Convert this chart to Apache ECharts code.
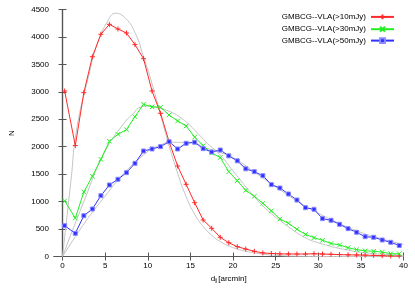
<!DOCTYPE html>
<html><head><meta charset="utf-8">
<script src="https://cdn.jsdelivr.net/npm/echarts@6/dist/echarts.min.js"></script>
<style>html,body{margin:0;padding:0;background:#fff}#c{width:415px;height:291px}</style>
</head><body><div id="c"></div>
<script>
const dVals = [0.25, 1.5, 2.5, 3.5, 4.5, 5.5, 6.5, 7.5, 8.5, 9.5, 10.5, 11.5, 12.5, 13.5, 14.5, 15.5, 16.5, 17.5, 18.5, 19.5, 20.5, 21.5, 22.5, 23.5, 24.5, 25.5, 26.5, 27.5, 28.5, 29.5, 30.5, 31.5, 32.5, 33.5, 34.5, 35.5, 36.5, 37.5, 38.5, 39.5];
const red10 = [3015, 2020, 2985, 3640, 4048, 4230, 4145, 4072, 3860, 3604, 3015, 2609, 2092, 1649, 1315, 980, 665, 514, 350, 251, 179, 135, 95, 65, 55, 48, 46, 45, 45, 50, 45, 40, 35, 30, 28, 25, 20, 15, 10, 10];
const green30 = [1011, 701, 1175, 1461, 1771, 2100, 2226, 2311, 2547, 2773, 2725, 2718, 2578, 2469, 2378, 2175, 2020, 1885, 1803, 1545, 1381, 1205, 1096, 969, 831, 683, 605, 496, 404, 343, 295, 237, 210, 160, 125, 103, 95, 80, 50, 50];
const blue50 = [561, 422, 743, 865, 1108, 1303, 1407, 1527, 1698, 1922, 1959, 2001, 2092, 1959, 2062, 2081, 1965, 1904, 1940, 1834, 1743, 1598, 1545, 1472, 1309, 1248, 1139, 1029, 889, 860, 690, 660, 587, 507, 441, 361, 350, 301, 259, 200];
const seriesNames = ['GMBCG--VLA(>10mJy)', 'GMBCG--VLA(>30mJy)', 'GMBCG--VLA(>50mJy)'];
// model curves (grey)
const fitRedX = [0, 1, 1.64, 2.95, 4.1, 5.26, 6.23, 7.39, 8.54, 9.5, 10.5, 11.5, 12.5, 13.5, 14.5, 15.5, 16.5, 17.5, 18.5, 19.5, 21, 23, 25, 28, 32, 40];
const fitRedY = [0, 1400, 2305, 3216, 3885, 4278, 4431, 4340, 4067, 3640, 3150, 2580, 2020, 1520, 1090, 770, 545, 385, 272, 192, 115, 55, 22, 5, 0, 0];
const fitGreenX = [0, 2.5, 4.88, 7.2, 8.35, 9.1, 10.3, 11.4, 12.6, 13.7, 14.9, 16.05, 17, 18.5, 20, 22, 24, 26.5, 28.4, 30, 33.4, 36, 39.25, 40];
const fitGreenY = [0, 1000, 1880, 2427, 2612, 2718, 2742, 2700, 2640, 2547, 2396, 2214, 2060, 1850, 1560, 1180, 850, 543, 350, 250, 118, 60, 27, 22];
const fitBlueX = [0, 1.5, 3, 5, 7, 9.5, 11, 13, 15, 16.8, 18, 20, 22.5, 25, 27.5, 30, 32.5, 35, 37.5, 40];
const fitBlueY = [0, 360, 700, 1100, 1480, 1850, 2000, 2080, 2080, 1980, 1920, 1800, 1540, 1270, 1010, 790, 600, 440, 320, 220];
const xTicks = [0, 5, 10, 15, 20, 25, 30, 35, 40];

const pair = (xs, ys) => xs.map((x, i) => [x, ys[i]]);
const font = 'Liberation Sans, Arial, sans-serif';
const axisCol = '#555';
const chart = echarts.init(document.getElementById('c'));
const fit = (xs, ys) => ({type: 'line', data: pair(xs, ys), smooth: 0.5, showSymbol: false, symbol: 'none',
  lineStyle: {color: '#c4c4c4', width: 1}, z: 1, silent: true, animation: false});
const dataSeries = (name, ys, color, symbol, size, border) => ({
  name, type: 'line', data: pair(dVals, ys), symbol, symbolSize: size, showSymbol: true, z: 3,
  lineStyle: {color, width: 1}, itemStyle: {color: border ? color : 'none', borderColor: border || color, borderWidth: 1},
  color, animation: false
});
chart.setOption({
  animation: false,
  grid: {left: 49, right: 11.5, top: 9.5, bottom: 34.5},
  legend: {
    data: seriesNames, orient: 'vertical', align: 'right', right: 20, top: 12,
    itemWidth: 23, itemHeight: 6, itemGap: 2.5, padding: 0,
    textStyle: {fontFamily: font, fontSize: 8, color: '#000', padding: [0, 0, 0, 0]}
  },
  xAxis: [{
    type: 'value', min: -1, max: 40, position: 'bottom',
    name: 'd{sub|\u2225}[arcmin]', nameLocation: 'middle', nameGap: 16,
    nameTextStyle: {fontFamily: font, fontSize: 8, color: '#000',
      rich: {sub: {fontSize: 5, fontFamily: font, color: '#000', padding: [5, 0, 0, 0]}}},
    axisLine: {lineStyle: {color: axisCol, width: 1.2}},
    axisTick: {inside: true, length: 4, customValues: xTicks, lineStyle: {color: axisCol}},
    axisLabel: {customValues: xTicks, fontFamily: font, fontSize: 8, color: '#000', margin: 5, formatter: v => String(v)},
    splitLine: {show: false}
  }, {
    type: 'value', min: -1, max: 40, position: 'top',
    axisLine: {lineStyle: {color: axisCol, width: 1.2}},
    axisTick: {inside: true, length: 4, customValues: xTicks, lineStyle: {color: axisCol}},
    axisLabel: {show: false}, splitLine: {show: false}
  }],
  yAxis: [{
    type: 'value', min: 0, max: 4500, interval: 500, position: 'left',
    name: 'N', nameLocation: 'middle', nameGap: 38, nameRotate: 90,
    nameTextStyle: {fontFamily: font, fontSize: 8, color: '#000'},
    axisLine: {show: true, lineStyle: {color: axisCol, width: 1.2}},
    axisTick: {show: true, inside: true, length: 4, lineStyle: {color: axisCol}},
    axisLabel: {fontFamily: font, fontSize: 8, color: '#000', margin: 5, formatter: v => String(v)},
    splitLine: {show: false}
  }, {
    type: 'value', min: 0, max: 4500, interval: 500, position: 'right',
    axisLine: {show: true, lineStyle: {color: axisCol, width: 1.2}},
    axisTick: {show: true, inside: true, length: 4, lineStyle: {color: axisCol}},
    axisLabel: {show: false}, splitLine: {show: false}
  }],
  series: [
    fit(fitRedX, fitRedY), fit(fitGreenX, fitGreenY), fit(fitBlueX, fitBlueY),
    dataSeries(seriesNames[0], red10, '#ff2a2a', 'path://M0,5L10,5M5,0L5,10', 5),
    dataSeries(seriesNames[1], green30, '#22ee22', 'path://M0,0L10,10M10,0L0,10', 4.5),
    dataSeries(seriesNames[2], blue50, '#2f2fff', 'rect', 4, '#8a8aff')
  ]
});
</script></body></html>
